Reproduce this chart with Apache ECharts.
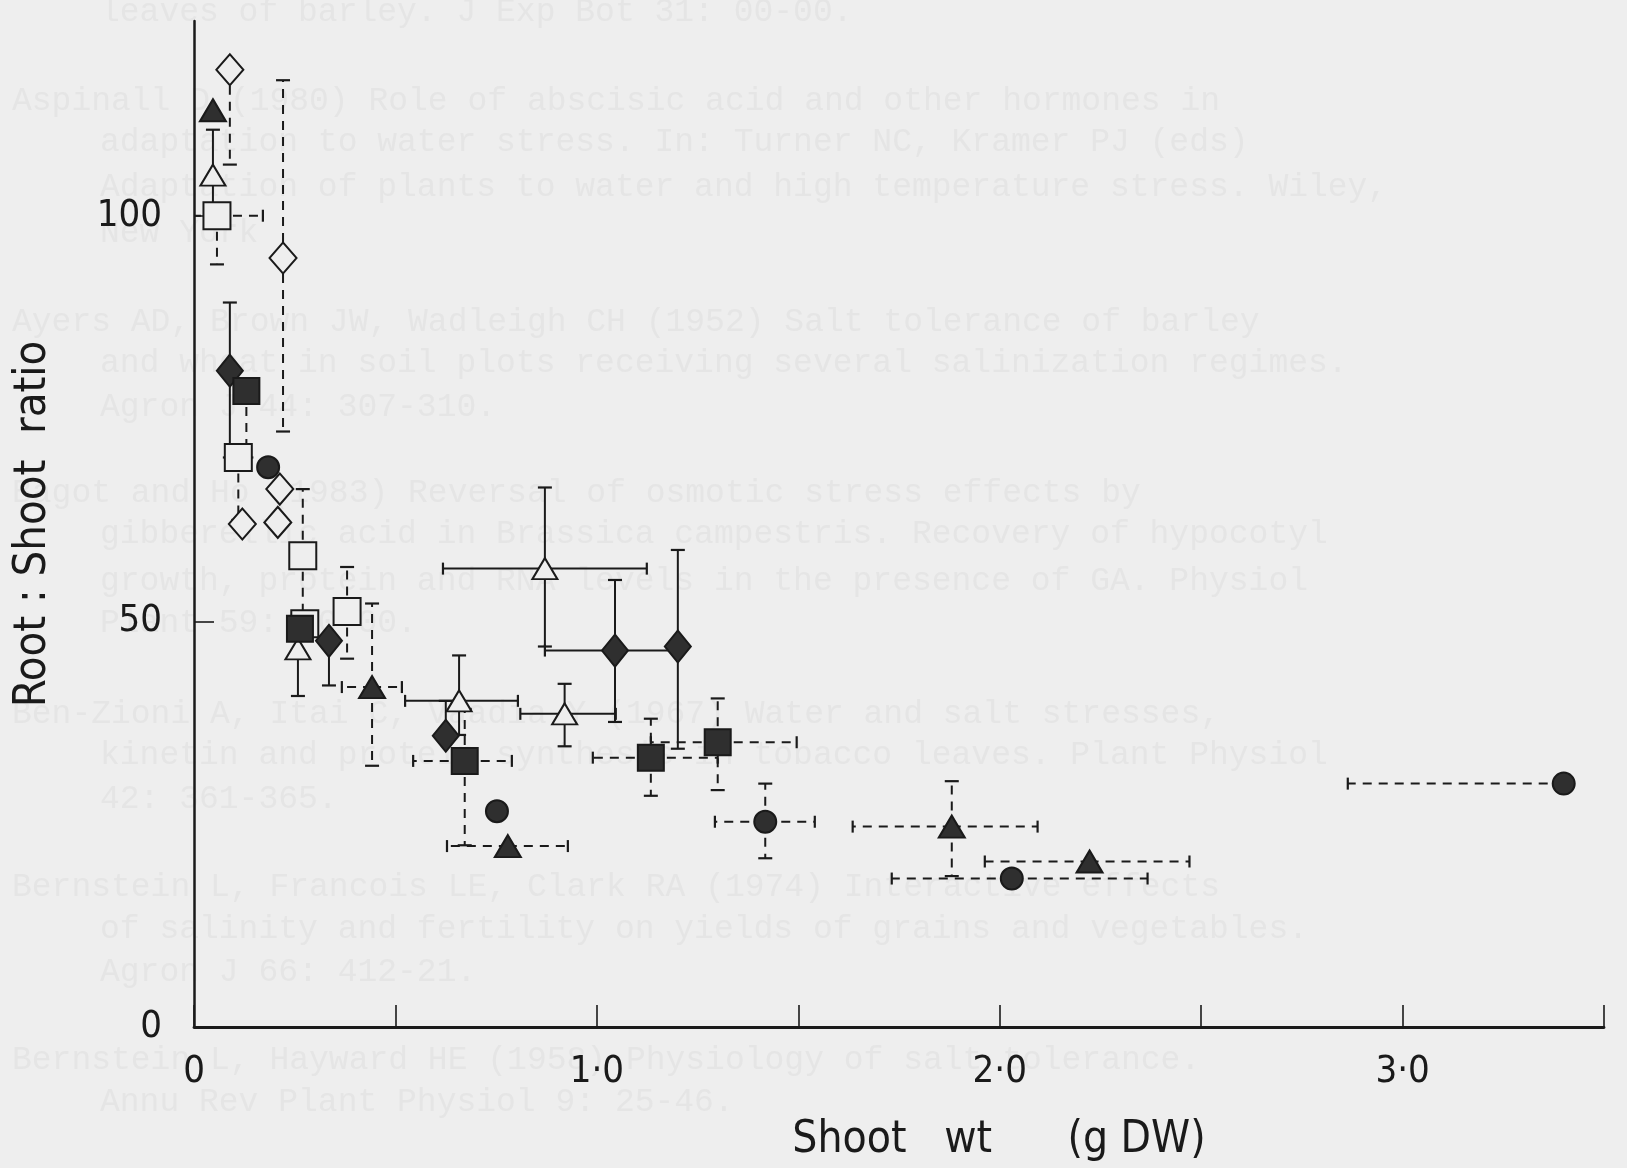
<!DOCTYPE html>
<html><head><meta charset="utf-8">
<script src="https://cdn.jsdelivr.net/npm/echarts/dist/echarts.min.js"></script>
<style>html,body{margin:0;padding:0;background:#eeeeee}#c{width:1627px;height:1168px}</style>
</head><body><div id="c"></div><script>
// ---------- tick labels ----------
const xTickLabels = {'0': '0', '1': '1·0', '2': '2·0', '3': '3·0'};
const yTickValues = [0, 50, 100];
const yTickLabels = {'0': '0', '50': '50', '100': '100'};

// ---------- data (x = shoot wt g DW, y = root:shoot ratio) ----------
// open diamonds (dashed error bars)
const openDiamondX    = [0.089, 0.221, 0.120, 0.213, 0.208];
const openDiamondY    = [118.0, 94.8, 62.0, 66.3, 62.2];
const openDiamondYLo  = [106.3, 73.4, null, null, null];
const openDiamondYHi  = [null, 116.7, null, null, null];
const openDiamondXLo  = [null, null, null, null, null];
const openDiamondXHi  = [null, null, null, null, null];

// filled triangles (dashed error bars)
const fillTriX   = [0.047, 0.442, 0.779, 1.881, 2.223];
const fillTriY   = [113.0, 41.9, 22.3, 24.7, 20.4];
const fillTriYLo = [null, 32.2, null, 18.6, null];
const fillTriYHi = [null, 52.2, null, 30.3, null];
const fillTriXLo = [null, 0.367, 0.628, 1.635, 1.963];
const fillTriXHi = [null, 0.516, 0.928, 2.094, 2.471];

// open triangles (solid error bars)
const openTriX   = [0.047, 0.258, 0.871, 0.658, 0.920];
const openTriY   = [105.0, 46.6, 56.5, 40.2, 38.6];
const openTriYLo = [100.0, 40.8, 46.9, 36.0, 34.6];
const openTriYHi = [110.6, null, 66.5, 45.8, 42.3];
const openTriXLo = [null, null, 0.618, 0.524, 0.810];
const openTriXHi = [null, null, 1.124, 0.804, 1.047];

// open squares (dashed error bars)
const openSqX   = [0.057, 0.110, 0.270, 0.275, 0.380];
const openSqY   = [100.0, 70.2, 58.1, 49.7, 51.2];
const openSqYLo = [94.0, 62.5, 49.7, null, 45.4];
const openSqYHi = [null, null, 66.3, null, 56.7];
const openSqXLo = [0.0, null, null, null, null];
const openSqXHi = [0.171, null, null, null, null];

// filled diamonds (solid error bars)
const fillDiaX   = [0.089, 0.335, 0.625, 1.045, 1.201];
const fillDiaY   = [80.9, 47.6, 35.9, 46.4, 46.9];
const fillDiaYLo = [70.2, 42.1, null, 37.6, 34.3];
const fillDiaYHi = [89.3, null, 40.2, 55.1, 58.8];
const fillDiaXLo = [null, null, null, 0.871, null];
const fillDiaXHi = [null, null, null, 1.201, null];

// filled squares (dashed error bars)
const fillSqX   = [0.130, 0.263, 0.672, 1.134, 1.300];
const fillSqY   = [78.4, 49.1, 32.8, 33.2, 35.1];
const fillSqYLo = [70.2, null, 22.4, 28.5, 29.2];
const fillSqYHi = [null, null, 39.2, 38.0, 40.5];
const fillSqXLo = [null, null, 0.544, 0.990, 1.134];
const fillSqXHi = [null, null, 0.789, 1.300, 1.496];

// filled circles (dashed error bars)
const fillCirX   = [0.184, 0.752, 1.418, 2.030, 3.400];
const fillCirY   = [69.0, 26.6, 25.3, 18.3, 30.0];
const fillCirYLo = [null, null, 20.8, null, null];
const fillCirYHi = [null, null, 30.0, null, null];
const fillCirXLo = [null, null, 1.293, 1.732, 2.864];
const fillCirXHi = [null, null, 1.541, 2.367, null];

// faint show-through text of the scanned page
const ghostLines = [
  'leaves of barley. J Exp Bot 31: 00-00.',
  'Aspinall D (1980) Role of abscisic acid and other hormones in',
  'adaptation to water stress. In: Turner NC, Kramer PJ (eds)',
  'Adaptation of plants to water and high temperature stress. Wiley,',
  'New York',
  'Ayers AD, Brown JW, Wadleigh CH (1952) Salt tolerance of barley',
  'and wheat in soil plots receiving several salinization regimes.',
  'Agron J 44: 307-310.',
  'Bagot and Ho (1983) Reversal of osmotic stress effects by',
  'gibberellic acid in Brassica campestris. Recovery of hypocotyl',
  'growth, protein and RNA levels in the presence of GA. Physiol',
  'Plant 59: 00-00.',
  'Ben-Zioni A, Itai C, Vaadia Y (1967) Water and salt stresses,',
  'kinetin and protein synthesis in tobacco leaves. Plant Physiol',
  '42: 361-365.',
  'Bernstein L, Francois LE, Clark RA (1974) Interactive effects',
  'of salinity and fertility on yields of grains and vegetables.',
  'Agron J 66: 412-21.',
  'Bernstein L, Hayward HE (1958) Physiology of salt tolerance.',
  'Annu Rev Plant Physiol 9: 25-46.'
];
const ghostIndent = [1,0,1,1,1,0,1,1,0,1,1,1,0,1,1,0,1,1,0,1];
const ghostY = [12,101,142,187,233,322,363,407,493,534,581,623,714,755,799,887,929,972,1060,1102];

// ---------- styling ----------
const BG = '#eeeeee', INK = '#1a1a1a', FILL = '#2f2f2f';
const FONT = "'Liberation Sans Narrow','DejaVu Sans Condensed','Roboto Condensed',sans-serif";

const groups = [
  {x: openDiamondX, y: openDiamondY, ylo: openDiamondYLo, yhi: openDiamondYHi, xlo: openDiamondXLo, xhi: openDiamondXHi, dashed: true, symbol: 'diamond', size: [27, 31], filled: false},
  {x: fillTriX, y: fillTriY, ylo: fillTriYLo, yhi: fillTriYHi, xlo: fillTriXLo, xhi: fillTriXHi, dashed: true, symbol: 'triangle', size: [26, 22], filled: true},
  {x: openTriX, y: openTriY, ylo: openTriYLo, yhi: openTriYHi, xlo: openTriXLo, xhi: openTriXHi, dashed: false, symbol: 'triangle', size: [25, 21], filled: false},
  {x: openSqX, y: openSqY, ylo: openSqYLo, yhi: openSqYHi, xlo: openSqXLo, xhi: openSqXHi, dashed: true, symbol: 'rect', size: [27, 27], filled: false},
  {x: fillDiaX, y: fillDiaY, ylo: fillDiaYLo, yhi: fillDiaYHi, xlo: fillDiaXLo, xhi: fillDiaXHi, dashed: false, symbol: 'diamond', size: [26, 32], filled: true},
  {x: fillSqX, y: fillSqY, ylo: fillSqYLo, yhi: fillSqYHi, xlo: fillSqXLo, xhi: fillSqXHi, dashed: true, symbol: 'rect', size: [26, 26], filled: true},
  {x: fillCirX, y: fillCirY, ylo: fillCirYLo, yhi: fillCirYHi, xlo: fillCirXLo, xhi: fillCirXHi, dashed: true, symbol: 'circle', size: 22, filled: true}
];

function errRender(g) {
  return function (params, api) {
    const i = params.dataIndex;
    const x = api.value(0), y = api.value(1);
    const p = api.coord([x, y]);
    const st = {stroke: INK, lineWidth: 2, lineDash: g.dashed ? [9, 7] : null, fill: null};
    const capSt = {stroke: INK, lineWidth: 2.2, fill: null};
    const ch = [];
    const seg = (a, b, s) => ch.push({type: 'line', shape: {x1: a[0], y1: a[1], x2: b[0], y2: b[1]}, style: s});
    const vCap = 7, hCap = 6;
    if (g.ylo[i] != null) { const q = api.coord([x, g.ylo[i]]); seg(p, q, st); seg([q[0]-vCap, q[1]], [q[0]+vCap, q[1]], capSt); }
    if (g.yhi[i] != null) { const q = api.coord([x, g.yhi[i]]); seg(p, q, st); seg([q[0]-vCap, q[1]], [q[0]+vCap, q[1]], capSt); }
    if (g.xlo[i] != null) { const q = api.coord([g.xlo[i], y]); seg(p, q, st); if (g.xlo[i] > 0) seg([q[0], q[1]-hCap], [q[0], q[1]+hCap], capSt); }
    if (g.xhi[i] != null) { const q = api.coord([g.xhi[i], y]); seg(p, q, st); seg([q[0], q[1]-hCap], [q[0], q[1]+hCap], capSt); }
    return {type: 'group', children: ch};
  };
}

const series = [];
groups.forEach(g => {
  const data = g.x.map((v, i) => [v, g.y[i]]);
  series.push({type: 'custom', renderItem: errRender(g), data: data, encode: {x: 0, y: 1}, z: 2, silent: true});
});
groups.forEach(g => {
  const data = g.x.map((v, i) => [v, g.y[i]]);
  series.push({
    type: 'scatter', data: data, symbol: g.symbol, symbolSize: g.size, z: 5, silent: true,
    itemStyle: {color: g.filled ? FILL : BG, borderColor: INK, borderWidth: 2, opacity: 1}
  });
});

const ghost = ghostLines.map((t, k) => ({
  type: 'text', z: -10, silent: true,
  style: {text: t, x: ghostIndent[k] ? 100 : 12, y: ghostY[k], fill: '#e5e5e5',
          font: "33px 'Liberation Mono','DejaVu Sans Mono',monospace", verticalAlign: 'middle'}
}));

const chart = echarts.init(document.getElementById('c'), null, {renderer: 'canvas'});
chart.setOption({
  backgroundColor: BG,
  animation: false,
  graphic: ghost,
  grid: {left: 194, right: 23, top: 21, bottom: 139},
  xAxis: {
    type: 'value', min: 0, max: 3.5, interval: 0.5,
    name: 'Shoot   wt      (g DW)', nameLocation: 'middle', nameGap: 92,
    nameTextStyle: {color: INK, fontSize: 44, fontFamily: FONT, padding: [0, 0, 0, 200]},
    axisLine: {onZero: false, lineStyle: {color: INK, width: 2.8}},
    axisTick: {inside: true, length: 22, lineStyle: {color: INK, width: 1.6}},
    axisLabel: {color: INK, fontSize: 38, fontFamily: FONT, margin: 26,
      formatter: v => (xTickLabels[String(v)] !== undefined ? xTickLabels[String(v)] : '')},
    splitLine: {show: false}
  },
  yAxis: {
    type: 'value', min: 0, max: 124, interval: 50,
    name: 'Root : Shoot  ratio', nameLocation: 'middle', nameGap: 138, nameRotate: 90,
    nameTextStyle: {color: INK, fontSize: 45, fontFamily: FONT, padding: [0, 0, 0, 0]},
    axisLine: {onZero: false, lineStyle: {color: INK, width: 2.5}},
    axisTick: {inside: true, length: 20, customValues: yTickValues, lineStyle: {color: INK, width: 1.6}},
    axisLabel: {color: INK, fontSize: 38, fontFamily: FONT, margin: 32, customValues: yTickValues,
      formatter: v => (yTickLabels[String(v)] !== undefined ? yTickLabels[String(v)] : '')},
    splitLine: {show: false}
  },
  series: series
});
</script></body></html>
